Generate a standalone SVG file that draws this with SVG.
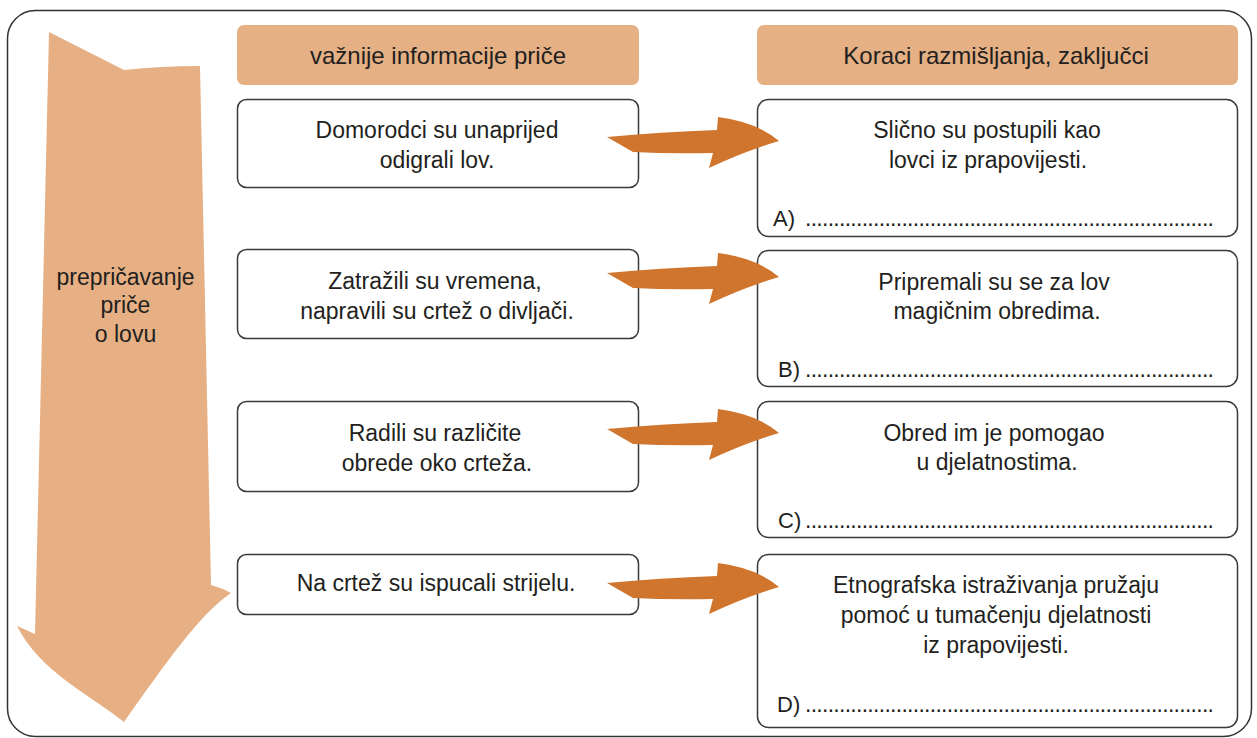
<svg xmlns="http://www.w3.org/2000/svg" xmlns:xlink="http://www.w3.org/1999/xlink" width="1257" height="738" viewBox="0 0 1257 738">
<style>
.hdr{fill:#E5B084}
.box{fill:#fff;stroke:#3a3a3a;stroke-width:1.5}
.t{font-family:"Liberation Sans",Arial,sans-serif;font-size:23px;fill:#231f20;text-anchor:middle}
.h{font-size:24px}
.l{font-family:"Liberation Sans",Arial,sans-serif;font-size:22px;fill:#231f20}
.dots{font-family:"Liberation Sans",Arial,sans-serif;font-size:23px;fill:#231f20;letter-spacing:-0.72px}
.arr{fill:#D0752E}
</style>
<defs>
<path id="oarrow" class="arr" d="M607,137 Q660,132 717,130 L718,117 Q757,122 779,141 Q745,151 709,168 L713,153 Q670,154 633,152 Z"/>
</defs>
<rect x="7.5" y="10.5" width="1244" height="726" rx="28" ry="28" fill="#fff" stroke="#333" stroke-width="1.5"/>

<g id="flow-arrow">
<path fill="#E6B084" d="M49,32 L124,70 Q162,66 200,66 L211,585 Q222,588 231,593 C200,614 168,660 124,722 C92,696 40,672 17,626 L35,634 Z"/>
<text class="t"><tspan x="125.5" y="285">prepričavanje</tspan><tspan x="125.5" y="313">priče</tspan><tspan x="125.5" y="342">o lovu</tspan></text>
</g>

<g id="header-left">
<rect class="hdr" x="237" y="25" width="402" height="60" rx="7"/>
<text class="t h" x="438" y="64">važnije informacije priče</text>
</g>
<g id="header-right">
<rect class="hdr" x="757" y="25" width="481" height="60" rx="7"/>
<text class="t h" x="996" y="64">Koraci razmišljanja, zaključci</text>
</g>

<g id="info-1">
<rect class="box" x="237.5" y="99.5" width="401" height="88" rx="9"/>
<text class="t"><tspan x="437" y="138">Domorodci su unaprijed</tspan><tspan x="437" y="168">odigrali lov.</tspan></text>
</g>
<g id="info-2">
<rect class="box" x="237.5" y="249.5" width="401" height="89" rx="9"/>
<text class="t"><tspan x="435" y="289">Zatražili su vremena,</tspan><tspan x="437" y="319">napravili su crtež o divljači.</tspan></text>
</g>
<g id="info-3">
<rect class="box" x="237.5" y="401.5" width="401" height="90" rx="9"/>
<text class="t"><tspan x="435" y="441">Radili su različite</tspan><tspan x="437" y="471">obrede oko crteža.</tspan></text>
</g>
<g id="info-4">
<rect class="box" x="237.5" y="554.5" width="401" height="60" rx="9"/>
<text class="t" x="436" y="591">Na crtež su ispucali strijelu.</text>
</g>

<g id="concl-A">
<rect class="box" x="757.5" y="99.5" width="480" height="137" rx="11"/>
<text class="t"><tspan x="987" y="138">Slično su postupili kao</tspan><tspan x="988" y="168">lovci iz prapovijesti.</tspan></text>
<text class="l" x="773" y="226">A)</text>
<text class="dots" x="805" y="226">........................................................................</text>
</g>
<g id="concl-B">
<rect class="box" x="757.5" y="250.5" width="480" height="136" rx="11"/>
<text class="t"><tspan x="994" y="290">Pripremali su se za lov</tspan><tspan x="997" y="319">magičnim obredima.</tspan></text>
<text class="l" x="778" y="377">B)</text>
<text class="dots" x="805" y="377">........................................................................</text>
</g>
<g id="concl-C">
<rect class="box" x="757.5" y="401.5" width="480" height="136" rx="11"/>
<text class="t"><tspan x="994" y="441">Obred im je pomogao</tspan><tspan x="997" y="470">u djelatnostima.</tspan></text>
<text class="l" x="778" y="528">C)</text>
<text class="dots" x="805" y="528">........................................................................</text>
</g>
<g id="concl-D">
<rect class="box" x="757.5" y="554.5" width="480" height="173" rx="11"/>
<text class="t"><tspan x="996" y="593">Etnografska istraživanja pružaju</tspan><tspan x="996" y="623">pomoć u tumačenju djelatnosti</tspan><tspan x="996" y="653">iz prapovijesti.</tspan></text>
<text class="l" x="777" y="712">D)</text>
<text class="dots" x="805" y="712">........................................................................</text>
</g>

<g id="connectors">
<use xlink:href="#oarrow"/>
<use xlink:href="#oarrow" transform="translate(0,136)"/>
<use xlink:href="#oarrow" transform="translate(0,292)"/>
<use xlink:href="#oarrow" transform="translate(0,446)"/>
</g>
</svg>
